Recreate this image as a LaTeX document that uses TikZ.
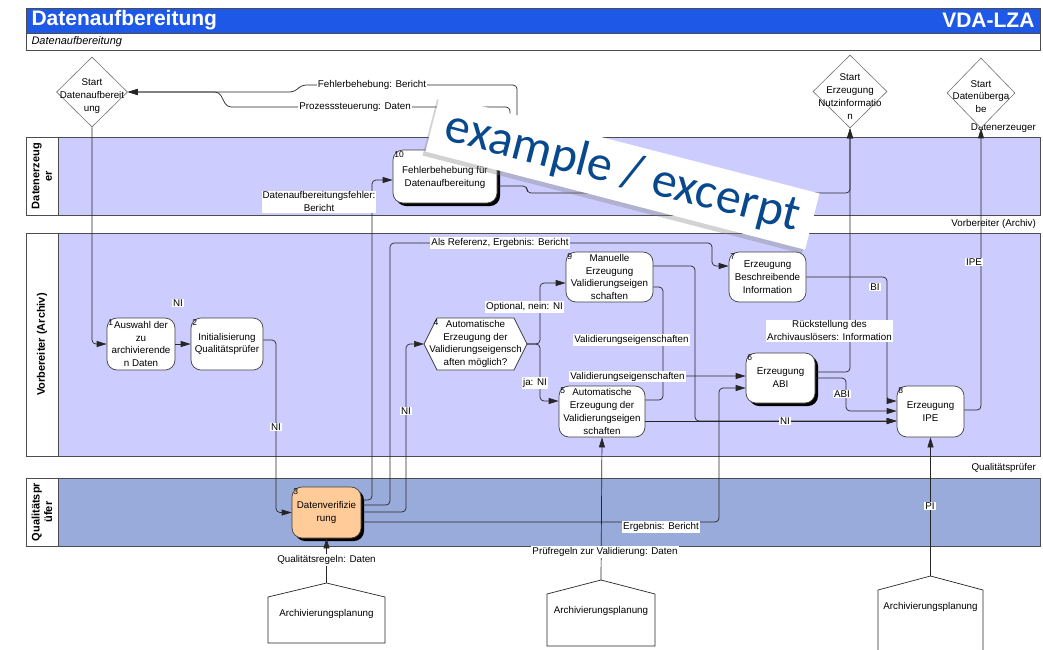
\documentclass[tikz,border=0pt]{standalone}
\usepackage{fontspec}
\setmainfont{Liberation Sans}
\newfontfamily\stempelfont{Carlito}
\usetikzlibrary{arrows.meta, shapes.geometric, shadows}

\definecolor{titelblau}{RGB}{30,88,230}
\definecolor{lanelila}{RGB}{204,204,255}
\definecolor{laneblau}{RGB}{153,171,218}
\definecolor{orangebox}{RGB}{255,204,153}
\definecolor{stempelblau}{RGB}{8,72,140}

\tikzset{
  txt/.style={font=\fontsize{9.8}{12.8}\selectfont, align=center, inner sep=1pt},
  proc/.style={txt, draw=black!75, fill=white, rounded corners=10pt, line width=0.7pt},
  procschatten/.style={proc, drop shadow={shadow xshift=3pt, shadow yshift=-3pt, fill=black, opacity=1}},
  nr/.style={anchor=north west, inner sep=1.5pt, font=\fontsize{8.5}{9}\selectfont},
  startdia/.style={diamond, draw=black!55, fill=white, inner sep=0pt, line width=0.6pt},
  lanerand/.style={draw=black!70, line width=0.8pt},
  lanekopf/.style={font=\bfseries\fontsize{11}{12.5}\selectfont, align=center, rotate=90},
  fluss/.style={draw=black!85, line width=0.7pt, rounded corners=4pt, -{Triangle[length=10pt,width=6pt]}},
  linie/.style={draw=black!85, line width=0.7pt, rounded corners=4pt},
  lbl/.style={txt, fill=white},
  haus/.style={draw=black!85, fill=white, line width=0.7pt}
}

\begin{document}
\begin{tikzpicture}[x=1pt, y=-1pt]
    \useasboundingbox (0,0) rectangle (1043,649);

    % ================= Kopfzeile =================
    \fill[titelblau] (26,8) rectangle (1040,33);
    \draw[lanerand] (26,8) rectangle (1040,33);
    \draw[lanerand] (26,33) rectangle (1040,50);
    \node[anchor=west, text=white, font=\bfseries\fontsize{21}{24}\selectfont] (titel) at (28,20.5) {Datenaufbereitung};
    \node[anchor=east, text=white, font=\bfseries\fontsize{21}{24}\selectfont] (vda) at (1038,20.5) {VDA-LZA};
    \node[anchor=west, font=\itshape\fontsize{11}{13}\selectfont] (untertitel) at (28,41.5) {Datenaufbereitung};

    % ================= Swimlanes =================
    % Datenerzeuger
    \fill[lanelila] (58,137) rectangle (1040,215);
    \draw[lanerand] (26,137) rectangle (1040,215) (58,137) -- (58,215);
    \node[lanekopf] (kopf1) at (42,176) {Datenerzeug\\er};
    \node[txt, anchor=east] (rolle1) at (1037,128) {Datenerzeuger};

    % Vorbereiter (Archiv)
    \fill[lanelila] (58,233) rectangle (1040,456);
    \draw[lanerand] (26,233) rectangle (1040,456) (58,233) -- (58,456);
    \node[lanekopf] (kopf2) at (42,344.5) {Vorbereiter (Archiv)};
    \node[txt, anchor=east] (rolle2) at (1037,224) {Vorbereiter (Archiv)};

    % Qualitaetspruefer
    \fill[laneblau] (58,478) rectangle (1040,546);
    \draw[lanerand] (26,478) rectangle (1040,546) (58,478) -- (58,546);
    \node[lanekopf] (kopf3) at (42,512) {Qualitätspr\\üfer};
    \node[txt, anchor=east] (rolle3) at (1037,468) {Qualitätsprüfer};

    % ================= Startereignisse =================
    \node[startdia, minimum width=71pt, minimum height=70pt] (sd) at (92,92) {};
    \node[txt] (sd-t) at (92,96) {Start\\Datenaufbereit\\ung};
    \node[startdia, minimum width=74pt, minimum height=73pt] (sn) at (850,91.5) {};
    \node[txt] (sn-t) at (850,96.5) {Start\\Erzeugung\\Nutzinformatio\\n};
    \node[startdia, minimum width=68pt, minimum height=70pt] (su) at (981,93) {};
    \node[txt] (su-t) at (981,96.5) {Start\\Datenüberga\\be};

    % ================= Prozessschritte =================
    \node[procschatten, minimum width=104pt, minimum height=53pt] (b10) at (445,176.5) {\\[-4pt]Fehlerbehebung für\\Datenaufbereitung};
    \node[proc, minimum width=68pt, minimum height=52pt] (b1) at (141,344) {Auswahl der\\zu\\archivierende\\n Daten};
    \node[proc, minimum width=72pt, minimum height=52pt] (b2) at (227,344) {Initialisierung\\Qualitätsprüfer};
    \node[procschatten, fill=orangebox, minimum width=69pt, minimum height=51pt] (b3) at (326.5,512.5) {Datenverifizie\\rung};

    % Entscheidung als Sechseck
    \draw[haus, draw=black!75] (424,344) -- (437,318) -- (514,318) -- (527,344) -- (514,370) -- (437,370) -- cycle;
    \node[txt, minimum width=103pt, minimum height=52pt] (b4) at (475.5,344) {Automatische\\Erzeugung der\\Validierungseigensch\\aften möglich?};

    \node[proc, minimum width=87pt, minimum height=50pt] (b9) at (609.5,277) {Manuelle\\Erzeugung\\Validierungseigen\\schaften};
    \node[proc, minimum width=86pt, minimum height=51pt] (b5) at (602,411.5) {Automatische\\Erzeugung der\\Validierungseigen\\schaften};
    \node[proc, minimum width=77pt, minimum height=50pt] (b7) at (767.5,277) {Erzeugung\\Beschreibende\\Information};
    \node[procschatten, minimum width=69pt, minimum height=50pt] (b6) at (780.5,378) {Erzeugung\\ABI};
    \node[proc, minimum width=67pt, minimum height=51pt] (b8) at (930.5,411.5) {Erzeugung\\IPE};

    % Nummern oben links
    \foreach \n/\k in {b10/10, b1/1, b2/2, b3/3, b5/5, b6/6, b7/7, b8/8, b9/9}
        \node[nr] (\n-nr) at (\n.north west) {\k};
    \node[nr] (b4-nr) at ([xshift=8pt]b4.north west) {4};

    % ================= Archivierungsplanung (extern) =================
    \foreach \n/\x/\hw/\t/\b in {ap1/326.5/58.5/583/643, ap2/601/54/580/646, ap3/930.5/52.5/576/655} {
        \draw[haus] (\x-\hw,\b) -- (\x-\hw,\t+14) -- (\x,\t) -- (\x+\hw,\t+14) -- (\x+\hw,\b) -- cycle;
        \coordinate (\n) at (\x,\t);
        \node[txt] (\n-t) at (\x,\t+31) {Archivierungsplanung};
    }

    % ================= Verbindungen =================
    \draw[fluss] (sd.south) |- (b1.west);
    \draw[fluss] (b1.east) -- (b2.west);
    \draw[fluss] (b2.east |- 0,340) -- (276,340) -- (276,512.5) -- (b3.west);

    % Ausgaenge der Datenverifizierung
    \draw[fluss] (b3.east |- 0,500) -- (372,500) -- (372,180) -- (b10.west |- 0,180);
    \draw[fluss] (b3.east |- 0,505) -- (390,505) -- (390,243) -- (712,243) -- (712,266) -- (b7.west |- 0,266);
    \draw[fluss] (b3.east |- 0,512) -- (406,512) -- (406,344) -- (424,344);
    \draw[fluss] (b3.east |- 0,522) -- (719,522) -- (719,388) -- (b6.west |- 0,388);

    % Fehlerbehebung zurueck zum Start
    \draw[fluss] (b10.east |- 0,166) -- (517,166) -- (517,85) -- (302,85) -- (294,92) -- (sd.east);
    \draw[fluss] (b10.east |- 0,160) -- (510,160) -- (510,107) -- (227,107) -- (219,92) -- (sd.east);
    \draw[fluss] (b10.east |- 0,186) -- (527,186) -- (527,193) -- (850,193) -- (sn.south);

    % Entscheidung
    \draw[fluss] (527,344) -- (540,344) -- (540,283) -- (b9.west |- 0,283);
    \draw[fluss] (527,344) -- (540,344) -- (540,401) -- (b5.west |- 0,401);

    % Validierungseigenschaften und Nutzinformation
    \draw[fluss] (b9.east |- 0,266) -- (695,266) -- (695,421) -- (b8.west |- 0,421);
    \draw[fluss] (b5.east |- 0,421) -- (b8.west |- 0,421);
    \draw[fluss] (b9.east |- 0,287) -- (663,287) -- (663,376) -- (b6.west |- 0,376);
    \draw[linie] (b5.east |- 0,400) -- (663,400) -- (663,376);

    % Beschreibende Information, ABI, IPE
    \draw[fluss] (b7.east |- 0,277) -- (887,277) -- (887,401) -- (b8.west |- 0,401);
    \draw[fluss] (b6.east |- 0,372) -- (850,372) -- (sn.south);
    \draw[fluss] (b6.east |- 0,378) -- (846,378) -- (846,411) -- (b8.west |- 0,411);
    \draw[fluss] (b8.east |- 0,410) -- (981,410) -- (su.south);

    % Regeln aus der Archivierungsplanung
    \draw[fluss] (ap1) -- (b3.south);
    \draw[fluss] (ap2) -- (b5.south);
    \draw[fluss] (ap3) -- (b8.south);

    % ================= Beschriftungen =================
    \node[lbl] (l1) at (372,85) {Fehlerbehebung: Bericht};
    \node[lbl] (l2) at (355,107) {Prozesssteuerung: Daten};
    \node[lbl] (l3) at (319,201.5) {Datenaufbereitungsfehler:\\Bericht};
    \node[lbl] (l4) at (500,243) {Als Referenz, Ergebnis: Bericht};
    \node[lbl] (l5) at (178,303) {NI};
    \node[lbl] (l6) at (276,427) {NI};
    \node[lbl] (l7) at (406,411) {NI};
    \node[lbl] (l8) at (524.5,307) {Optional, nein: NI};
    \node[lbl] (l9) at (535,383) {ja: NI};
    \node[lbl] (l10) at (631.5,340) {Validierungseigenschaften};
    \node[lbl] (l11) at (627.5,376.5) {Validierungseigenschaften};
    \node[lbl] (l12) at (785,421) {NI};
    \node[lbl] (l13) at (875,287) {BI};
    \node[lbl] (l14) at (829.5,330.5) {Rückstellung des\\Archivauslösers: Information};
    \node[lbl] (l15) at (842,394) {ABI};
    \node[lbl] (l16) at (974,262) {IPE};
    \node[lbl] (l17) at (930,506) {PI};
    \node[lbl] (l18) at (661,527) {Ergebnis: Bericht};
    \node[lbl] (l19) at (605,552) {Prüfregeln zur Validierung: Daten};
    \node[lbl] (l20) at (326.5,560) {Qualitätsregeln: Daten};

    % ================= Stempel =================
    \node[fill=white, text=stempelblau, rotate=-14.5, minimum width=392pt, minimum height=58pt, inner sep=0pt,
          font=\stempelfont\fontsize{50}{50}\selectfont,
          drop shadow={shadow xshift=-3pt, shadow yshift=-4pt, opacity=0.35}] (stempel) at (622.5,172.5) {example / excerpt};

\end{tikzpicture}
\end{document}
